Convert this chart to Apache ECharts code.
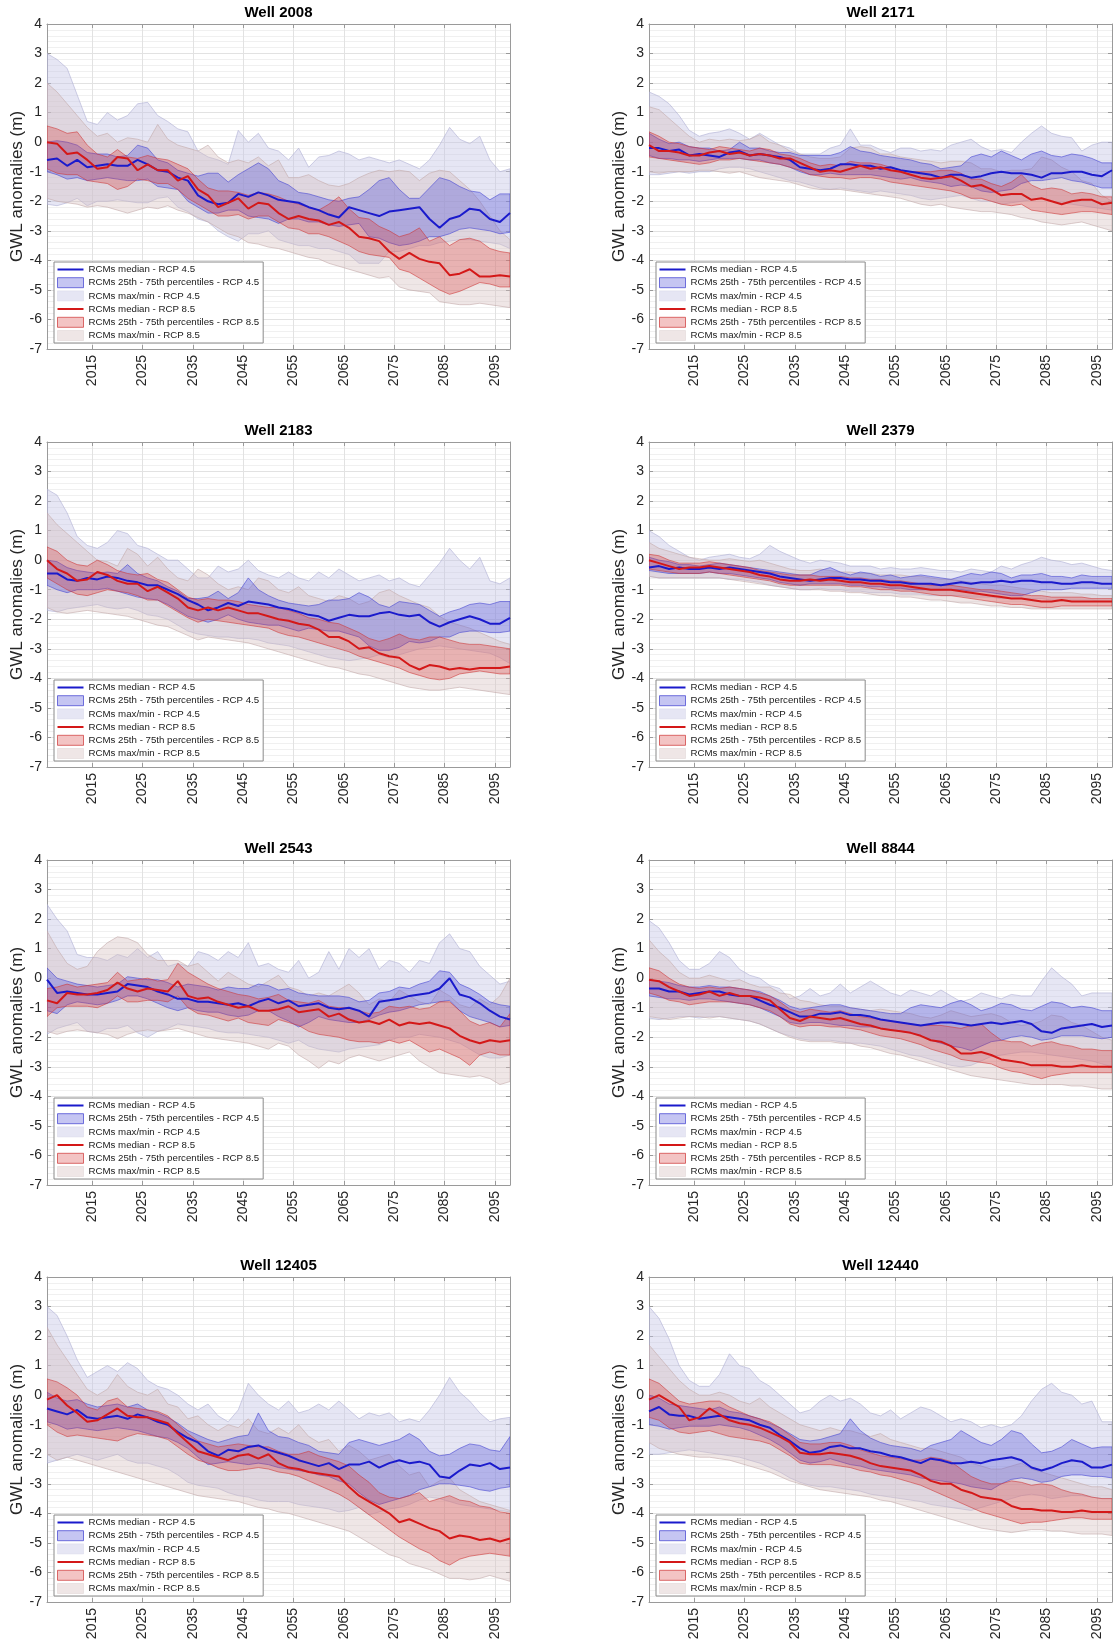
<!DOCTYPE html>
<html><head><meta charset="utf-8">
<script src="https://cdn.jsdelivr.net/npm/echarts@6/dist/echarts.min.js"></script>
<style>html,body{margin:0;padding:0;background:#fff}#c{width:1113px;height:1652px}</style>
</head><body><div id="c"></div>
<script>
const YEARS = [2006,2008,2010,2012,2014,2016,2018,2020,2022,2024,2026,2028,2030,2032,2034,2036,2038,2040,2042,2044,2046,2048,2050,2052,2054,2056,2058,2060,2062,2064,2066,2068,2070,2072,2074,2076,2078,2080,2082,2084,2086,2088,2090,2092,2094,2096,2098];
const X_TICKS = [2015,2025,2035,2045,2055,2065,2075,2085,2095];
const TITLES = ['Well 2008','Well 2171','Well 2183','Well 2379','Well 2543','Well 8844','Well 12405','Well 12440'];
const NAMES = ['RCMs median - RCP 4.5','RCMs 25th - 75th percentiles - RCP 4.5','RCMs max/min - RCP 4.5','RCMs median - RCP 8.5','RCMs 25th - 75th percentiles - RCP 8.5','RCMs max/min - RCP 8.5'];

// ---- Well 2008 ----
const w2008_med45 = [-0.6,-0.55,-0.8,-0.6,-0.85,-0.8,-0.75,-0.8,-0.8,-0.6,-0.75,-0.95,-1.0,-1.2,-1.3,-1.8,-2.0,-2.1,-2.05,-1.75,-1.85,-1.7,-1.8,-1.95,-2.0,-2.05,-2.2,-2.3,-2.45,-2.55,-2.2,-2.3,-2.4,-2.5,-2.35,-2.3,-2.25,-2.2,-2.6,-2.9,-2.6,-2.5,-2.25,-2.3,-2.6,-2.7,-2.4];
const w2008_med85 = [0.0,-0.05,-0.4,-0.35,-0.6,-0.9,-0.85,-0.5,-0.55,-0.95,-0.75,-0.95,-0.95,-1.3,-1.15,-1.6,-1.8,-2.2,-2.05,-1.9,-2.25,-2.05,-2.1,-2.4,-2.6,-2.5,-2.6,-2.65,-2.8,-2.7,-2.9,-3.2,-3.25,-3.35,-3.7,-3.95,-3.75,-3.95,-4.05,-4.1,-4.5,-4.45,-4.3,-4.55,-4.55,-4.5,-4.55];
const w2008_q75_45 = [0.0,0.05,0.0,-0.1,-0.35,-0.4,-0.4,-0.5,-0.45,-0.1,-0.2,-0.6,-0.7,-0.95,-1.05,-1.15,-1.05,-1.05,-1.35,-1.1,-0.9,-0.7,-0.9,-1.3,-1.45,-1.7,-1.75,-1.85,-1.95,-2.0,-1.9,-1.85,-1.6,-1.3,-1.2,-1.6,-1.9,-1.9,-1.55,-1.2,-1.3,-1.5,-1.65,-1.7,-1.95,-1.75,-1.75];
const w2008_q25_45 = [-1.0,-1.1,-1.25,-1.2,-1.3,-1.25,-1.2,-1.25,-1.3,-1.3,-1.25,-1.5,-1.55,-1.6,-2.0,-2.2,-2.4,-2.4,-2.3,-2.3,-2.5,-2.55,-2.6,-2.75,-2.6,-2.6,-2.7,-2.7,-2.8,-2.85,-2.8,-2.75,-3.2,-3.25,-3.4,-3.5,-3.45,-3.35,-3.2,-3.2,-3.1,-2.95,-2.9,-2.95,-3.0,-3.1,-3.05];
const w2008_q75_85 = [0.55,0.45,0.3,0.35,-0.1,-0.4,-0.5,-0.25,-0.5,-0.55,-0.45,-0.55,-0.6,-0.75,-0.9,-1.25,-1.55,-1.65,-1.65,-1.7,-1.8,-1.7,-1.75,-1.85,-2.0,-2.1,-2.2,-2.3,-2.1,-1.85,-2.25,-2.55,-2.6,-2.85,-3.0,-3.2,-3.1,-2.9,-3.35,-3.2,-3.5,-3.3,-3.25,-3.35,-3.6,-3.7,-3.75];
const w2008_q25_85 = [-0.9,-1.05,-1.1,-1.1,-1.3,-1.35,-1.4,-1.6,-1.5,-1.25,-1.3,-1.4,-1.4,-1.6,-1.9,-2.1,-2.3,-2.5,-2.5,-2.45,-2.6,-2.5,-2.5,-2.7,-2.9,-2.95,-3.1,-3.1,-3.2,-3.35,-3.5,-3.7,-3.8,-3.85,-3.9,-4.3,-4.4,-4.6,-4.8,-5.0,-5.15,-5.05,-4.9,-4.75,-4.8,-4.9,-4.9];
const w2008_max45 = [3.0,2.8,2.5,1.6,0.7,0.6,1.0,0.75,0.9,1.3,1.35,0.9,0.7,0.45,0.35,-0.3,-0.5,-0.6,-0.75,0.4,0.0,0.3,-0.2,-0.3,-0.6,-0.2,-0.85,-0.5,-0.45,-0.3,-0.4,-0.6,-0.5,-0.6,-0.7,-0.6,-0.75,-0.9,-0.6,-0.1,0.5,0.1,-0.05,0.2,-0.6,-1.0,-0.9];
const w2008_min45 = [-2.1,-2.15,-2.05,-1.9,-2.15,-2.0,-2.0,-1.95,-2.0,-2.05,-2.05,-1.9,-1.85,-2.2,-2.35,-2.6,-2.7,-3.0,-3.2,-3.35,-3.1,-3.1,-3.0,-3.3,-3.4,-3.5,-3.5,-3.6,-3.6,-3.7,-3.8,-4.1,-4.1,-4.1,-3.7,-3.7,-3.6,-3.5,-3.5,-3.4,-3.35,-3.3,-3.3,-3.35,-3.4,-3.45,-3.6];
const w2008_max85 = [2.0,1.7,1.3,0.9,0.5,0.2,0.3,0.0,0.15,0.1,0.0,0.6,0.1,-0.1,-0.2,-0.3,-0.1,-0.5,-0.7,-0.6,-0.7,-0.5,-0.8,-0.6,-1.2,-1.2,-1.1,-1.3,-1.45,-1.5,-1.4,-1.2,-1.05,-0.95,-1.0,-0.95,-1.0,-1.3,-1.05,-0.95,-1.0,-1.3,-1.6,-2.0,-2.5,-3.0,-3.3];
const w2008_min85 = [-1.9,-2.0,-2.05,-2.1,-2.2,-2.15,-2.2,-2.3,-2.4,-2.3,-2.2,-2.25,-2.15,-2.3,-2.4,-2.55,-2.7,-2.9,-3.1,-3.2,-3.4,-3.45,-3.55,-3.6,-3.7,-3.8,-3.9,-3.95,-4.1,-4.2,-4.3,-4.4,-4.5,-4.6,-4.55,-4.9,-5.0,-5.05,-5.1,-5.4,-5.45,-5.5,-5.5,-5.45,-5.5,-5.55,-5.6];

// ---- Well 2171 ----
const w2171_med45 = [-0.2,-0.2,-0.3,-0.25,-0.45,-0.4,-0.45,-0.5,-0.35,-0.3,-0.45,-0.4,-0.45,-0.5,-0.6,-0.85,-0.9,-0.95,-0.9,-0.75,-0.75,-0.8,-0.8,-0.9,-0.85,-0.95,-1.0,-1.05,-1.1,-1.2,-1.1,-1.1,-1.2,-1.15,-1.05,-1.0,-1.05,-1.05,-1.1,-1.2,-1.05,-1.05,-1.0,-1.0,-1.1,-1.15,-0.95];
const w2171_med85 = [-0.1,-0.3,-0.3,-0.35,-0.45,-0.45,-0.35,-0.3,-0.4,-0.35,-0.45,-0.4,-0.45,-0.55,-0.55,-0.7,-0.85,-1.0,-0.95,-1.0,-0.9,-0.8,-0.9,-0.85,-0.95,-1.0,-1.1,-1.2,-1.25,-1.2,-1.15,-1.3,-1.5,-1.45,-1.6,-1.8,-1.75,-1.75,-1.95,-1.9,-2.0,-2.1,-2.0,-1.95,-1.95,-2.1,-2.05];
const w2171_q75_45 = [0.3,0.1,-0.05,0.0,-0.15,-0.2,-0.2,-0.3,-0.25,0.0,-0.2,-0.2,-0.3,-0.35,-0.35,-0.45,-0.45,-0.45,-0.45,-0.35,-0.15,-0.3,-0.35,-0.45,-0.5,-0.55,-0.6,-0.7,-0.75,-0.9,-0.85,-0.8,-0.5,-0.4,-0.5,-0.3,-0.45,-0.6,-0.4,-0.3,-0.45,-0.5,-0.4,-0.45,-0.55,-0.7,-0.7];
const w2171_q25_45 = [-0.45,-0.55,-0.55,-0.6,-0.6,-0.65,-0.6,-0.55,-0.55,-0.55,-0.6,-0.6,-0.7,-0.75,-0.85,-1.0,-1.1,-1.1,-1.05,-1.1,-1.1,-1.1,-1.1,-1.15,-1.2,-1.25,-1.2,-1.3,-1.35,-1.4,-1.5,-1.45,-1.5,-1.65,-1.7,-1.65,-1.6,-1.4,-1.3,-1.3,-1.25,-1.2,-1.3,-1.35,-1.45,-1.55,-1.55];
const w2171_q75_85 = [0.35,0.2,0.0,-0.05,-0.15,-0.2,-0.25,-0.15,-0.2,-0.25,-0.3,-0.2,-0.25,-0.4,-0.45,-0.55,-0.7,-0.8,-0.75,-0.8,-0.65,-0.7,-0.7,-0.75,-0.85,-0.95,-1.0,-1.0,-1.0,-0.95,-0.95,-1.05,-1.25,-1.25,-1.4,-1.5,-1.35,-1.1,-1.45,-1.6,-1.55,-1.6,-1.75,-1.7,-1.75,-1.85,-1.85];
const w2171_q25_85 = [-0.5,-0.55,-0.6,-0.65,-0.7,-0.75,-0.7,-0.6,-0.6,-0.55,-0.6,-0.65,-0.7,-0.75,-0.85,-0.95,-1.1,-1.15,-1.2,-1.2,-1.25,-1.2,-1.2,-1.25,-1.35,-1.4,-1.45,-1.5,-1.55,-1.6,-1.65,-1.75,-1.9,-1.9,-2.0,-2.1,-2.15,-2.1,-2.3,-2.35,-2.4,-2.45,-2.4,-2.35,-2.35,-2.4,-2.45];
const w2171_max45 = [1.7,1.55,1.3,0.9,0.4,0.2,0.3,0.35,0.45,0.3,0.1,0.3,0.1,-0.1,-0.2,-0.4,-0.4,-0.4,-0.2,-0.1,0.45,-0.1,-0.1,-0.25,-0.35,-0.2,-0.2,-0.3,-0.25,-0.3,-0.1,0.0,0.1,-0.15,-0.3,-0.25,-0.35,0.0,0.3,0.55,0.3,0.2,0.15,-0.3,-0.1,0.0,0.0];
const w2171_min45 = [-1.1,-1.1,-1.05,-1.0,-1.05,-1.0,-1.0,-0.9,-0.85,-0.85,-0.9,-1.0,-1.1,-1.2,-1.3,-1.35,-1.45,-1.55,-1.6,-1.55,-1.6,-1.65,-1.7,-1.65,-1.7,-1.75,-1.8,-1.9,-1.95,-1.9,-1.85,-1.8,-1.9,-2.0,-2.0,-2.1,-2.05,-2.0,-1.95,-1.9,-2.0,-2.05,-2.1,-2.15,-2.2,-2.25,-2.3];
const w2171_max85 = [1.2,1.1,0.8,0.5,0.2,0.0,0.1,0.05,0.1,0.05,0.1,0.25,0.0,-0.1,-0.3,-0.4,-0.5,-0.55,-0.55,-0.5,-0.2,-0.15,-0.2,-0.4,-0.4,-0.5,-0.55,-0.6,-0.65,-0.7,-0.65,-0.65,-0.7,-0.9,-0.9,-1.0,-0.95,-0.95,-0.9,-0.5,-0.6,-0.85,-1.0,-1.3,-1.4,-1.8,-2.0];
const w2171_min85 = [-1.0,-1.05,-1.0,-1.0,-1.0,-0.95,-0.95,-1.0,-1.05,-1.0,-1.1,-1.2,-1.25,-1.3,-1.35,-1.45,-1.55,-1.6,-1.6,-1.6,-1.65,-1.7,-1.75,-1.8,-1.85,-1.9,-2.0,-2.1,-2.15,-2.1,-2.2,-2.25,-2.3,-2.35,-2.35,-2.4,-2.45,-2.55,-2.6,-2.7,-2.75,-2.8,-2.75,-2.7,-2.8,-2.9,-3.0];

// ---- Well 2183 ----
const w2183_med45 = [-0.45,-0.45,-0.65,-0.7,-0.6,-0.65,-0.55,-0.6,-0.7,-0.75,-0.85,-0.85,-1.0,-1.15,-1.35,-1.5,-1.7,-1.6,-1.45,-1.55,-1.4,-1.45,-1.5,-1.6,-1.65,-1.75,-1.85,-1.9,-2.05,-1.95,-1.85,-1.9,-1.9,-1.8,-1.75,-1.85,-1.9,-1.85,-2.1,-2.25,-2.1,-2.0,-1.9,-2.0,-2.15,-2.15,-1.95];
const w2183_med85 = [0.0,-0.3,-0.45,-0.7,-0.65,-0.4,-0.5,-0.7,-0.8,-0.8,-1.05,-0.9,-1.1,-1.3,-1.6,-1.7,-1.6,-1.7,-1.6,-1.7,-1.8,-1.8,-1.9,-2.0,-2.05,-2.15,-2.2,-2.35,-2.6,-2.6,-2.75,-3.0,-2.95,-3.15,-3.25,-3.3,-3.55,-3.7,-3.55,-3.6,-3.7,-3.65,-3.7,-3.65,-3.65,-3.65,-3.6];
const w2183_q75_45 = [0.0,-0.05,-0.25,-0.35,-0.4,-0.45,-0.4,-0.45,-0.15,-0.45,-0.6,-0.7,-0.9,-1.05,-1.3,-1.3,-1.25,-1.05,-1.3,-1.1,-0.6,-1.0,-1.2,-1.35,-1.45,-1.5,-1.55,-1.5,-1.35,-1.35,-1.3,-1.1,-1.25,-1.5,-1.6,-1.4,-1.45,-1.5,-1.7,-1.9,-1.75,-1.65,-1.5,-1.45,-1.5,-1.4,-1.4];
const w2183_q25_45 = [-0.85,-1.0,-1.1,-1.0,-1.0,-1.0,-0.95,-1.05,-1.15,-1.25,-1.3,-1.35,-1.5,-1.7,-1.9,-2.0,-2.1,-2.0,-1.85,-2.0,-2.1,-2.15,-2.2,-2.2,-2.3,-2.4,-2.3,-2.35,-2.4,-2.4,-2.5,-2.6,-2.9,-3.05,-3.05,-2.95,-2.75,-2.8,-2.75,-2.6,-2.6,-2.45,-2.4,-2.4,-2.45,-2.45,-2.4];
const w2183_q75_85 = [0.45,0.3,0.0,-0.15,-0.2,0.0,-0.15,-0.35,-0.45,-0.5,-0.45,-0.65,-0.75,-1.0,-1.25,-1.35,-1.3,-1.35,-1.35,-1.4,-1.5,-1.55,-1.6,-1.6,-1.7,-1.8,-1.95,-2.0,-2.1,-2.15,-2.3,-2.45,-2.65,-2.75,-2.65,-2.5,-2.65,-2.7,-2.6,-2.6,-2.7,-2.8,-2.85,-2.85,-2.9,-2.95,-3.0];
const w2183_q25_85 = [-0.6,-0.8,-1.0,-1.15,-1.2,-1.1,-1.0,-1.05,-1.1,-1.2,-1.35,-1.35,-1.55,-1.75,-1.95,-2.1,-2.0,-2.05,-2.1,-2.15,-2.2,-2.25,-2.3,-2.45,-2.55,-2.6,-2.7,-2.8,-2.9,-3.0,-3.1,-3.25,-3.35,-3.45,-3.55,-3.65,-3.8,-3.9,-4.0,-4.05,-4.0,-3.85,-3.8,-3.75,-3.8,-3.85,-3.85];
const w2183_max45 = [2.4,2.2,1.6,0.8,0.5,0.4,0.6,1.0,0.9,0.5,0.4,0.2,0.0,0.0,-0.3,-0.6,-0.6,-0.2,-0.4,-0.3,0.0,-0.35,-0.5,-0.6,-0.4,-0.6,-0.7,-0.4,-0.6,-0.3,-0.5,-0.7,-0.6,-0.5,-0.7,-0.6,-0.8,-0.9,-0.5,-0.1,0.4,0.0,-0.3,0.1,-0.7,-0.8,-0.6];
const w2183_min45 = [-1.7,-1.75,-1.65,-1.6,-1.55,-1.5,-1.6,-1.65,-1.6,-1.7,-1.85,-1.9,-2.0,-2.2,-2.4,-2.5,-2.55,-2.6,-2.6,-2.65,-2.65,-2.7,-2.8,-2.85,-2.9,-3.0,-3.1,-3.2,-3.3,-3.35,-3.4,-3.35,-3.3,-3.2,-3.3,-3.2,-3.1,-3.0,-2.95,-2.9,-2.95,-3.0,-3.05,-3.1,-3.15,-3.3,-3.5];
const w2183_max85 = [1.6,1.2,0.9,0.6,0.3,0.0,-0.05,-0.2,0.4,0.2,-0.2,0.1,-0.3,-0.6,-0.7,-0.3,-0.5,-0.8,-1.0,-0.9,-1.0,-0.6,-0.7,-1.0,-1.1,-0.9,-1.2,-1.3,-1.4,-1.2,-1.3,-1.5,-1.4,-1.1,-1.0,-1.2,-1.35,-1.5,-1.6,-1.9,-2.1,-2.2,-2.3,-2.45,-2.6,-2.75,-2.85];
const w2183_min85 = [-1.6,-1.75,-1.8,-1.75,-1.7,-1.75,-1.8,-1.85,-1.9,-2.0,-2.1,-2.2,-2.25,-2.4,-2.55,-2.7,-2.6,-2.65,-2.7,-2.75,-2.8,-2.9,-3.0,-3.1,-3.2,-3.3,-3.4,-3.5,-3.6,-3.65,-3.75,-3.85,-3.9,-4.0,-4.1,-4.2,-4.3,-4.35,-4.4,-4.4,-4.35,-4.3,-4.35,-4.4,-4.45,-4.5,-4.55];

// ---- Well 2379 ----
const w2379_med45 = [-0.25,-0.2,-0.3,-0.25,-0.3,-0.3,-0.25,-0.3,-0.25,-0.3,-0.35,-0.4,-0.45,-0.55,-0.6,-0.65,-0.7,-0.65,-0.6,-0.6,-0.65,-0.65,-0.7,-0.7,-0.75,-0.75,-0.8,-0.8,-0.8,-0.85,-0.8,-0.75,-0.8,-0.75,-0.75,-0.7,-0.75,-0.7,-0.7,-0.75,-0.75,-0.8,-0.8,-0.75,-0.75,-0.8,-0.8];
const w2379_med85 = [0.0,-0.1,-0.2,-0.3,-0.25,-0.25,-0.2,-0.25,-0.3,-0.35,-0.4,-0.5,-0.55,-0.65,-0.7,-0.7,-0.65,-0.7,-0.65,-0.7,-0.75,-0.75,-0.8,-0.8,-0.85,-0.85,-0.9,-0.95,-1.0,-1.0,-1.0,-1.05,-1.1,-1.15,-1.2,-1.25,-1.3,-1.3,-1.35,-1.4,-1.4,-1.35,-1.4,-1.4,-1.4,-1.4,-1.4];
const w2379_q75_45 = [0.1,0.0,-0.05,-0.15,-0.15,-0.2,-0.15,-0.1,-0.15,-0.2,-0.25,-0.3,-0.35,-0.4,-0.45,-0.5,-0.5,-0.35,-0.25,-0.4,-0.5,-0.4,-0.45,-0.55,-0.5,-0.6,-0.55,-0.5,-0.55,-0.6,-0.65,-0.55,-0.45,-0.5,-0.4,-0.45,-0.6,-0.5,-0.5,-0.45,-0.55,-0.55,-0.6,-0.5,-0.55,-0.55,-0.55];
const w2379_q25_45 = [-0.35,-0.4,-0.45,-0.45,-0.45,-0.45,-0.4,-0.45,-0.45,-0.5,-0.55,-0.6,-0.65,-0.75,-0.8,-0.85,-0.8,-0.8,-0.8,-0.8,-0.85,-0.85,-0.9,-0.9,-0.95,-0.95,-1.0,-1.0,-1.0,-1.0,-1.0,-1.0,-1.05,-1.05,-1.1,-1.15,-1.2,-1.2,-1.1,-1.0,-1.0,-1.0,-0.95,-0.95,-0.95,-0.95,-0.95];
const w2379_q75_85 = [0.2,0.15,0.0,-0.1,-0.1,-0.1,-0.05,-0.1,-0.15,-0.2,-0.25,-0.35,-0.4,-0.45,-0.5,-0.5,-0.5,-0.55,-0.55,-0.55,-0.6,-0.6,-0.65,-0.65,-0.7,-0.7,-0.75,-0.8,-0.85,-0.85,-0.85,-0.9,-0.95,-1.0,-1.0,-1.05,-1.1,-1.15,-1.2,-1.2,-1.25,-1.25,-1.25,-1.25,-1.3,-1.3,-1.3];
const w2379_q25_85 = [-0.3,-0.35,-0.4,-0.45,-0.45,-0.45,-0.4,-0.45,-0.5,-0.55,-0.6,-0.65,-0.7,-0.8,-0.85,-0.85,-0.85,-0.85,-0.85,-0.85,-0.9,-0.9,-0.95,-1.0,-1.0,-1.05,-1.05,-1.1,-1.15,-1.2,-1.2,-1.25,-1.3,-1.35,-1.4,-1.45,-1.5,-1.5,-1.55,-1.6,-1.6,-1.55,-1.55,-1.55,-1.55,-1.55,-1.55];
const w2379_max45 = [1.0,0.8,0.5,0.3,0.1,0.0,0.1,0.15,0.2,0.1,0.05,0.2,0.5,0.3,0.15,0.0,-0.1,0.0,-0.05,-0.1,-0.2,-0.2,-0.2,-0.3,-0.25,-0.3,-0.3,-0.25,-0.3,-0.35,-0.35,-0.4,-0.3,-0.35,-0.4,-0.2,-0.3,-0.15,-0.05,0.1,0.0,-0.05,-0.15,-0.1,-0.2,-0.3,-0.35];
const w2379_min45 = [-0.55,-0.6,-0.6,-0.6,-0.6,-0.6,-0.6,-0.6,-0.65,-0.65,-0.7,-0.75,-0.85,-0.9,-0.95,-1.0,-1.0,-0.95,-1.0,-1.0,-1.05,-1.05,-1.1,-1.1,-1.1,-1.15,-1.15,-1.15,-1.2,-1.2,-1.2,-1.2,-1.25,-1.25,-1.25,-1.3,-1.3,-1.3,-1.3,-1.3,-1.35,-1.35,-1.35,-1.35,-1.35,-1.4,-1.4];
const w2379_max85 = [0.6,0.4,0.3,0.2,0.1,0.05,0.0,0.0,0.05,0.0,-0.05,0.0,-0.1,-0.2,-0.3,-0.35,-0.35,-0.3,-0.35,-0.4,-0.4,-0.45,-0.45,-0.5,-0.5,-0.5,-0.55,-0.55,-0.6,-0.65,-0.65,-0.7,-0.75,-0.8,-0.85,-0.85,-0.9,-0.95,-1.0,-1.05,-1.1,-1.1,-1.1,-1.15,-1.15,-1.2,-1.2];
const w2379_min85 = [-0.55,-0.6,-0.6,-0.6,-0.6,-0.6,-0.6,-0.6,-0.65,-0.7,-0.75,-0.8,-0.85,-0.9,-0.95,-1.0,-1.0,-1.0,-1.05,-1.05,-1.1,-1.1,-1.15,-1.2,-1.2,-1.25,-1.25,-1.3,-1.35,-1.35,-1.4,-1.45,-1.45,-1.5,-1.55,-1.55,-1.6,-1.6,-1.65,-1.65,-1.65,-1.65,-1.65,-1.65,-1.65,-1.65,-1.65];

// ---- Well 2543 ----
const w2543_med45 = [-0.05,-0.5,-0.45,-0.5,-0.55,-0.55,-0.5,-0.45,-0.2,-0.25,-0.3,-0.45,-0.55,-0.7,-0.7,-0.8,-0.8,-0.85,-0.9,-0.85,-0.95,-0.8,-0.7,-0.85,-0.75,-0.95,-0.9,-0.85,-1.0,-1.05,-1.0,-1.1,-1.3,-0.8,-0.75,-0.7,-0.6,-0.55,-0.5,-0.35,0.0,-0.55,-0.65,-0.85,-1.1,-1.3,-1.4];
const w2543_med85 = [-0.75,-0.85,-0.5,-0.55,-0.55,-0.5,-0.4,-0.15,-0.35,-0.45,-0.35,-0.4,-0.45,-0.1,-0.6,-0.7,-0.65,-0.8,-0.9,-1.0,-0.95,-1.1,-1.1,-1.05,-0.95,-1.15,-1.1,-1.05,-1.3,-1.2,-1.4,-1.5,-1.45,-1.55,-1.4,-1.6,-1.5,-1.55,-1.5,-1.6,-1.7,-1.95,-2.1,-2.2,-2.1,-2.15,-2.1];
const w2543_q75_45 = [0.35,0.0,-0.1,-0.2,-0.25,-0.3,-0.25,-0.2,0.05,0.0,-0.05,-0.05,-0.15,-0.3,-0.2,-0.25,-0.3,-0.4,-0.3,-0.35,-0.35,-0.2,-0.25,-0.4,-0.35,-0.5,-0.55,-0.6,-0.6,-0.6,-0.65,-0.8,-0.75,-0.5,-0.45,-0.3,-0.35,-0.2,-0.1,0.25,0.2,-0.2,-0.35,-0.55,-0.8,-0.9,-0.95];
const w2543_q25_45 = [-1.1,-1.2,-0.9,-0.8,-0.85,-0.9,-0.85,-0.75,-0.6,-0.6,-0.7,-0.85,-1.0,-1.1,-1.0,-1.1,-1.15,-1.15,-1.25,-1.3,-1.25,-1.1,-1.1,-1.3,-1.45,-1.65,-1.5,-1.3,-1.4,-1.45,-1.5,-1.5,-1.4,-1.25,-1.15,-1.1,-1.0,-0.9,-0.85,-0.8,-0.75,-1.1,-1.3,-1.4,-1.5,-1.65,-1.6];
const w2543_q75_85 = [-0.35,-0.3,-0.2,-0.3,-0.25,-0.2,-0.15,0.2,-0.1,-0.05,0.0,-0.1,-0.05,0.5,0.2,0.0,-0.2,-0.35,-0.45,-0.55,-0.6,-0.7,-0.65,-0.55,-0.75,-0.8,-0.85,-0.75,-0.95,-1.0,-1.0,-1.1,-1.2,-1.15,-0.95,-1.0,-0.95,-1.05,-1.0,-0.8,-0.8,-1.1,-1.45,-1.6,-1.5,-1.65,-1.2];
const w2543_q25_85 = [-1.3,-1.0,-0.95,-0.95,-0.95,-1.0,-0.85,-0.6,-0.8,-0.8,-0.75,-0.75,-0.8,-0.6,-1.0,-1.2,-1.25,-1.35,-1.45,-1.35,-1.5,-1.55,-1.6,-1.4,-1.5,-1.6,-1.8,-1.9,-1.95,-2.0,-2.1,-2.15,-2.15,-2.2,-2.1,-2.2,-2.1,-2.3,-2.5,-2.4,-2.55,-2.7,-2.95,-2.6,-2.5,-2.6,-2.6];
const w2543_max45 = [2.5,2.0,1.6,0.8,0.7,0.7,0.6,0.8,0.7,1.0,0.7,0.9,0.4,0.5,0.4,0.9,0.8,0.6,0.9,0.7,1.2,0.4,0.5,0.3,0.2,0.6,0.0,0.2,0.9,0.3,1.0,0.7,1.0,0.3,0.6,0.5,0.2,0.6,0.5,1.2,1.5,1.0,0.9,0.4,0.1,-0.2,-0.1];
const w2543_min45 = [-1.9,-1.7,-1.6,-1.5,-1.8,-1.85,-1.7,-1.7,-1.6,-1.85,-2.0,-1.8,-1.7,-1.55,-1.6,-1.65,-1.7,-1.8,-1.85,-1.85,-1.9,-1.95,-2.0,-2.1,-2.2,-2.1,-2.3,-2.4,-2.45,-2.5,-2.4,-2.35,-2.3,-2.25,-2.1,-2.0,-2.0,-1.9,-1.95,-2.0,-2.1,-2.2,-2.4,-2.6,-2.7,-2.7,-2.6];
const w2543_max85 = [1.6,1.0,0.5,0.3,0.4,0.9,1.2,1.4,1.35,1.2,0.8,0.6,0.6,0.6,0.4,0.5,0.2,-0.1,0.2,0.0,-0.2,-0.3,-0.1,0.1,-0.3,-0.4,-0.6,-0.5,-0.6,-0.4,-0.2,-0.5,-0.9,-0.7,-0.8,-0.4,-0.6,-0.8,-0.9,-0.4,-0.6,-0.9,-1.0,-0.7,-0.9,-0.6,0.0];
const w2543_min85 = [-1.8,-1.9,-1.8,-1.75,-1.8,-1.85,-1.9,-2.05,-1.9,-1.8,-1.75,-1.8,-1.75,-1.7,-1.8,-1.9,-2.0,-2.05,-2.1,-2.15,-2.2,-2.3,-2.4,-2.2,-2.3,-2.6,-2.8,-3.05,-2.8,-2.9,-2.7,-2.6,-2.7,-2.8,-2.7,-2.6,-2.5,-2.8,-3.0,-3.2,-3.25,-3.3,-3.35,-3.3,-3.4,-3.6,-3.5];

// ---- Well 8844 ----
const w8844_med45 = [-0.35,-0.35,-0.45,-0.45,-0.55,-0.5,-0.45,-0.45,-0.55,-0.6,-0.6,-0.75,-0.9,-1.0,-1.15,-1.3,-1.3,-1.2,-1.2,-1.15,-1.25,-1.25,-1.3,-1.4,-1.45,-1.5,-1.55,-1.6,-1.55,-1.5,-1.5,-1.55,-1.6,-1.55,-1.5,-1.55,-1.5,-1.45,-1.55,-1.8,-1.85,-1.7,-1.65,-1.6,-1.55,-1.65,-1.6];
const w8844_med85 = [-0.05,-0.1,-0.3,-0.45,-0.6,-0.55,-0.45,-0.6,-0.5,-0.6,-0.6,-0.65,-0.75,-1.05,-1.35,-1.45,-1.3,-1.35,-1.4,-1.35,-1.45,-1.55,-1.6,-1.7,-1.75,-1.8,-1.85,-1.95,-2.1,-2.15,-2.3,-2.55,-2.55,-2.5,-2.6,-2.75,-2.8,-2.85,-2.95,-2.95,-2.95,-3.0,-3.0,-2.95,-3.0,-3.0,-3.0];
const w8844_q75_45 = [-0.05,-0.1,-0.15,-0.25,-0.3,-0.3,-0.25,-0.3,-0.3,-0.35,-0.4,-0.45,-0.6,-0.75,-0.95,-1.05,-1.0,-0.95,-0.9,-0.9,-1.0,-1.05,-1.1,-1.15,-1.2,-1.2,-1.0,-0.9,-0.95,-1.0,-0.85,-0.75,-0.9,-1.1,-1.0,-0.85,-0.9,-1.05,-1.1,-0.95,-0.8,-0.85,-1.0,-0.95,-1.0,-1.1,-1.1];
const w8844_q25_45 = [-0.6,-0.65,-0.7,-0.7,-0.75,-0.7,-0.7,-0.75,-0.8,-0.85,-0.9,-1.0,-1.15,-1.3,-1.5,-1.55,-1.5,-1.5,-1.55,-1.6,-1.6,-1.65,-1.65,-1.7,-1.75,-1.8,-1.85,-1.95,-2.1,-2.2,-2.3,-2.35,-2.45,-2.3,-2.15,-2.1,-2.0,-1.95,-2.0,-2.1,-2.05,-1.95,-1.95,-1.95,-2.0,-2.05,-2.0];
const w8844_q75_85 = [0.35,0.25,0.0,-0.2,-0.3,-0.35,-0.3,-0.35,-0.3,-0.35,-0.4,-0.5,-0.6,-0.8,-1.05,-1.15,-1.05,-1.1,-1.15,-1.1,-1.2,-1.3,-1.35,-1.4,-1.45,-1.5,-1.55,-1.6,-1.6,-1.6,-1.65,-1.7,-1.6,-1.55,-1.85,-2.1,-2.15,-2.15,-2.3,-2.2,-2.15,-2.25,-2.3,-2.4,-2.4,-2.45,-2.45];
const w8844_q25_85 = [-0.5,-0.6,-0.75,-0.8,-0.9,-0.85,-0.8,-0.8,-0.8,-0.85,-0.9,-1.0,-1.1,-1.3,-1.55,-1.65,-1.6,-1.6,-1.65,-1.65,-1.7,-1.75,-1.85,-1.95,-2.0,-2.05,-2.15,-2.25,-2.4,-2.5,-2.6,-2.75,-2.8,-2.85,-2.9,-3.05,-3.15,-3.2,-3.3,-3.4,-3.3,-3.25,-3.2,-3.2,-3.2,-3.2,-3.2];
const w8844_max45 = [1.95,1.7,1.2,0.6,0.3,0.3,0.5,0.9,0.7,0.3,0.1,0.0,-0.25,-0.35,-0.7,-0.6,-0.35,-0.6,-0.5,-0.2,-0.5,-0.3,-0.1,-0.3,-0.5,-0.6,-0.4,-0.5,-0.6,-0.4,-0.6,-0.8,-0.7,-0.5,-0.6,-0.7,-0.55,-0.6,-0.6,-0.1,0.35,0.05,-0.2,-0.6,-0.5,-0.5,-0.5];
const w8844_min45 = [-1.35,-1.4,-1.35,-1.3,-1.3,-1.35,-1.3,-1.3,-1.35,-1.4,-1.45,-1.55,-1.7,-1.85,-1.95,-2.05,-2.1,-2.1,-2.1,-2.15,-2.2,-2.2,-2.25,-2.3,-2.4,-2.5,-2.6,-2.65,-2.75,-2.85,-2.95,-3.0,-2.95,-2.8,-2.65,-2.6,-2.55,-2.5,-2.5,-2.55,-2.6,-2.65,-2.7,-2.75,-2.8,-2.9,-3.0];
const w8844_max85 = [1.3,0.9,0.6,0.2,0.0,0.0,0.1,0.0,-0.1,-0.05,-0.2,-0.3,-0.3,-0.5,-0.55,-0.75,-0.8,-0.9,-0.95,-0.95,-1.0,-1.05,-1.1,-1.05,-1.1,-1.15,-1.2,-1.3,-1.35,-1.25,-1.1,-1.2,-1.3,-1.25,-1.2,-1.3,-1.5,-1.6,-1.55,-1.45,-1.25,-1.3,-1.5,-1.6,-1.8,-2.0,-2.1];
const w8844_min85 = [-1.3,-1.35,-1.4,-1.35,-1.3,-1.3,-1.35,-1.3,-1.35,-1.4,-1.45,-1.55,-1.7,-1.85,-2.0,-2.1,-2.15,-2.15,-2.15,-2.2,-2.2,-2.3,-2.35,-2.45,-2.55,-2.6,-2.7,-2.8,-2.9,-3.0,-3.1,-3.2,-3.3,-3.35,-3.4,-3.45,-3.5,-3.55,-3.6,-3.6,-3.6,-3.6,-3.65,-3.65,-3.7,-3.75,-3.75];

// ---- Well 12405 ----
const w12405_med45 = [-0.45,-0.55,-0.65,-0.5,-0.75,-0.8,-0.75,-0.7,-0.8,-0.65,-0.75,-0.9,-1.0,-1.25,-1.45,-1.6,-1.9,-2.05,-1.85,-1.9,-1.75,-1.7,-1.85,-1.95,-2.05,-2.2,-2.3,-2.4,-2.3,-2.5,-2.35,-2.35,-2.25,-2.45,-2.3,-2.2,-2.3,-2.25,-2.35,-2.75,-2.8,-2.55,-2.35,-2.4,-2.3,-2.5,-2.45];
const w12405_med85 = [-0.15,0.0,-0.35,-0.6,-0.9,-0.85,-0.65,-0.45,-0.7,-0.75,-0.75,-0.85,-0.95,-1.3,-1.6,-1.9,-2.0,-2.1,-2.2,-2.05,-2.0,-2.15,-2.0,-2.3,-2.45,-2.5,-2.6,-2.65,-2.7,-2.75,-3.1,-3.4,-3.6,-3.8,-4.0,-4.3,-4.2,-4.35,-4.5,-4.6,-4.85,-4.75,-4.8,-4.9,-4.85,-4.95,-4.85];
const w12405_q75_45 = [0.1,-0.1,-0.2,-0.15,-0.3,-0.4,-0.35,-0.3,-0.4,-0.3,-0.5,-0.6,-0.75,-0.95,-1.2,-1.35,-1.5,-1.6,-1.5,-1.4,-1.35,-0.6,-1.2,-1.4,-1.45,-1.6,-1.7,-1.9,-1.95,-2.0,-1.6,-1.5,-1.6,-1.7,-1.6,-1.5,-1.3,-1.5,-1.9,-2.05,-2.0,-1.8,-1.65,-1.7,-1.85,-1.9,-1.4];
const w12405_q25_45 = [-0.9,-1.0,-1.15,-1.1,-1.15,-1.2,-1.15,-1.1,-1.15,-1.2,-1.3,-1.4,-1.45,-1.6,-1.8,-2.1,-2.35,-2.3,-2.25,-2.3,-2.35,-2.3,-2.35,-2.45,-2.5,-2.55,-2.6,-2.7,-2.75,-2.9,-3.0,-3.3,-3.55,-3.7,-3.6,-3.5,-3.4,-3.2,-3.1,-3.0,-3.0,-3.05,-3.1,-3.2,-3.25,-3.15,-3.1];
const w12405_q75_85 = [0.55,0.45,0.25,0.0,-0.4,-0.5,-0.2,-0.1,-0.4,-0.45,-0.5,-0.55,-0.7,-1.0,-1.3,-1.55,-1.65,-1.75,-1.7,-1.65,-1.7,-1.75,-1.75,-1.9,-2.0,-2.0,-1.9,-2.05,-2.15,-2.25,-2.4,-2.7,-2.95,-3.3,-3.45,-3.5,-3.4,-3.3,-3.6,-3.5,-3.4,-3.55,-3.6,-3.75,-3.8,-3.95,-4.0];
const w12405_q25_85 = [-1.0,-1.25,-1.4,-1.35,-1.4,-1.45,-1.5,-1.55,-1.4,-1.3,-1.35,-1.4,-1.5,-1.75,-2.0,-2.2,-2.3,-2.45,-2.55,-2.55,-2.5,-2.45,-2.5,-2.6,-2.65,-2.75,-2.9,-3.05,-3.2,-3.35,-3.55,-3.8,-4.05,-4.3,-4.55,-4.8,-5.0,-5.2,-5.35,-5.6,-5.75,-5.55,-5.45,-5.4,-5.35,-5.4,-5.45];
const w12405_max45 = [3.0,2.7,2.0,1.2,0.6,0.8,1.0,0.8,1.1,0.9,0.5,0.3,0.2,0.0,-0.3,-0.5,-0.3,-0.7,-0.9,-0.5,0.4,0.0,-0.3,-0.5,-0.2,-0.6,-0.5,-0.3,-0.5,-0.2,-0.5,-0.8,-0.6,-0.7,-0.6,-0.9,-0.8,-0.9,-0.5,0.0,0.6,0.1,-0.2,-0.6,-0.9,-0.8,-0.75];
const w12405_min45 = [-2.3,-2.2,-2.1,-2.0,-2.1,-2.2,-2.1,-2.0,-2.2,-2.3,-2.3,-2.4,-2.5,-2.7,-2.95,-3.05,-3.1,-3.15,-3.3,-3.4,-3.45,-3.55,-3.6,-3.6,-3.6,-3.7,-3.75,-3.8,-3.85,-3.95,-3.9,-3.8,-4.05,-3.95,-3.85,-3.8,-3.7,-3.55,-3.45,-3.5,-3.6,-3.7,-3.75,-3.8,-3.85,-3.9,-3.95];
const w12405_max85 = [2.3,1.7,1.2,0.7,0.2,0.0,0.2,0.7,0.3,0.1,0.0,0.2,-0.3,-0.4,-0.8,-0.7,-1.0,-1.2,-1.0,-1.1,-0.8,-1.2,-1.3,-1.1,-1.3,-1.0,-1.4,-1.6,-1.5,-1.9,-1.7,-1.9,-2.2,-2.1,-2.0,-2.4,-2.7,-2.6,-3.1,-2.9,-2.8,-3.2,-3.4,-3.6,-3.7,-3.8,-3.9];
const w12405_min85 = [-2.0,-2.2,-2.1,-2.2,-2.3,-2.4,-2.5,-2.6,-2.7,-2.8,-2.9,-3.0,-3.1,-3.2,-3.3,-3.4,-3.45,-3.5,-3.55,-3.6,-3.7,-3.8,-3.85,-3.95,-4.0,-4.1,-4.2,-4.3,-4.4,-4.5,-4.6,-4.8,-5.0,-5.2,-5.4,-5.5,-5.7,-5.8,-5.9,-6.05,-6.2,-6.2,-6.25,-6.2,-6.1,-6.2,-6.3];

// ---- Well 12440 ----
const w12440_med45 = [-0.55,-0.4,-0.65,-0.7,-0.7,-0.8,-0.75,-0.7,-0.75,-0.8,-0.85,-1.0,-1.1,-1.35,-1.55,-1.8,-1.95,-1.9,-1.75,-1.7,-1.8,-1.8,-1.9,-1.95,-2.05,-2.1,-2.2,-2.3,-2.15,-2.2,-2.3,-2.3,-2.25,-2.3,-2.2,-2.15,-2.1,-2.2,-2.45,-2.55,-2.45,-2.3,-2.2,-2.25,-2.45,-2.45,-2.35];
const w12440_med85 = [-0.15,0.0,-0.2,-0.4,-0.85,-0.75,-0.45,-0.65,-0.85,-0.95,-1.0,-1.1,-1.25,-1.4,-1.6,-1.95,-2.0,-2.0,-1.95,-2.0,-2.05,-2.15,-2.3,-2.4,-2.45,-2.5,-2.55,-2.7,-2.9,-3.0,-3.0,-3.2,-3.3,-3.45,-3.5,-3.55,-3.75,-3.85,-3.85,-3.9,-3.9,-3.95,-3.95,-3.9,-3.95,-3.95,-3.95];
const w12440_q75_45 = [0.0,-0.1,-0.3,-0.35,-0.4,-0.45,-0.5,-0.4,-0.55,-0.6,-0.7,-0.8,-0.95,-1.1,-1.3,-1.5,-1.55,-1.5,-1.4,-1.3,-0.8,-1.2,-1.45,-1.6,-1.7,-1.75,-1.8,-1.9,-1.7,-1.6,-1.5,-1.2,-1.4,-1.6,-1.7,-1.5,-1.2,-1.3,-1.65,-1.95,-1.9,-1.75,-1.5,-1.65,-1.8,-1.75,-1.75];
const w12440_q25_45 = [-1.0,-1.05,-1.15,-1.1,-1.05,-1.05,-1.05,-1.0,-1.05,-1.1,-1.2,-1.35,-1.5,-1.7,-1.95,-2.2,-2.3,-2.25,-2.15,-2.25,-2.35,-2.4,-2.5,-2.55,-2.6,-2.65,-2.7,-2.8,-2.85,-2.9,-2.95,-3.0,-3.1,-3.15,-3.2,-3.0,-2.85,-2.8,-2.85,-2.95,-2.9,-2.75,-2.7,-2.7,-2.75,-2.75,-2.8];
const w12440_q75_85 = [0.55,0.4,0.1,-0.2,-0.3,-0.25,-0.2,-0.2,-0.4,-0.55,-0.7,-0.8,-0.9,-1.1,-1.35,-1.6,-1.65,-1.65,-1.6,-1.6,-1.7,-1.85,-1.95,-2.05,-2.1,-2.15,-2.2,-2.2,-2.1,-2.15,-2.25,-2.5,-2.75,-2.9,-3.0,-3.0,-2.9,-2.95,-3.05,-3.0,-3.05,-3.2,-3.3,-3.35,-3.45,-3.5,-3.5];
const w12440_q25_85 = [-0.75,-0.85,-1.1,-1.25,-1.3,-1.25,-1.2,-1.3,-1.4,-1.45,-1.5,-1.55,-1.65,-1.85,-2.05,-2.3,-2.35,-2.35,-2.35,-2.4,-2.45,-2.55,-2.6,-2.7,-2.75,-2.85,-2.95,-3.05,-3.2,-3.35,-3.5,-3.65,-3.8,-3.95,-4.05,-4.15,-4.25,-4.35,-4.3,-4.3,-4.25,-4.2,-4.15,-4.15,-4.2,-4.2,-4.2];
const w12440_max45 = [3.0,2.6,1.9,1.0,0.5,0.3,0.3,0.7,1.4,1.0,0.9,0.5,0.3,0.0,-0.3,-0.6,-0.5,-0.2,0.0,-0.2,-0.1,-0.3,-0.6,-0.7,-0.5,-0.8,-0.6,-0.4,-0.5,-0.7,-0.9,-0.8,-0.9,-1.1,-1.0,-1.1,-1.0,-0.7,-0.2,0.2,0.4,0.1,0.0,-0.3,-0.2,-0.9,-0.9];
const w12440_min45 = [-2.0,-2.0,-1.95,-1.9,-1.85,-1.9,-1.95,-2.0,-2.05,-2.1,-2.2,-2.3,-2.45,-2.6,-2.8,-2.95,-3.05,-3.1,-3.1,-3.15,-3.2,-3.25,-3.35,-3.4,-3.45,-3.5,-3.55,-3.6,-3.7,-3.75,-3.8,-3.85,-3.9,-3.8,-3.7,-3.6,-3.5,-3.4,-3.35,-3.4,-3.5,-3.45,-3.4,-3.4,-3.45,-3.5,-3.5];
const w12440_max85 = [1.7,1.3,0.9,0.5,0.2,0.0,0.0,0.1,0.0,-0.2,-0.3,-0.1,-0.4,-0.6,-0.8,-1.0,-1.1,-1.2,-1.1,-1.2,-1.2,-1.3,-1.4,-1.3,-1.5,-1.6,-1.7,-1.8,-1.8,-1.9,-2.0,-2.1,-2.3,-2.4,-2.5,-2.5,-2.4,-2.3,-2.5,-2.6,-2.7,-2.8,-2.9,-3.0,-3.1,-3.1,-3.2];
const w12440_min85 = [-1.6,-1.8,-1.9,-2.0,-2.05,-2.1,-2.1,-2.15,-2.2,-2.3,-2.4,-2.5,-2.6,-2.75,-2.9,-3.0,-3.1,-3.2,-3.25,-3.3,-3.35,-3.4,-3.45,-3.55,-3.6,-3.7,-3.8,-3.9,-4.0,-4.1,-4.2,-4.3,-4.4,-4.5,-4.55,-4.6,-4.65,-4.6,-4.55,-4.55,-4.6,-4.6,-4.65,-4.7,-4.7,-4.7,-4.75];

const WELLS = [
  {title:TITLES[0], med45:w2008_med45, q25_45:w2008_q25_45, q75_45:w2008_q75_45, min45:w2008_min45, max45:w2008_max45, med85:w2008_med85, q25_85:w2008_q25_85, q75_85:w2008_q75_85, min85:w2008_min85, max85:w2008_max85},
  {title:TITLES[1], med45:w2171_med45, q25_45:w2171_q25_45, q75_45:w2171_q75_45, min45:w2171_min45, max45:w2171_max45, med85:w2171_med85, q25_85:w2171_q25_85, q75_85:w2171_q75_85, min85:w2171_min85, max85:w2171_max85},
  {title:TITLES[2], med45:w2183_med45, q25_45:w2183_q25_45, q75_45:w2183_q75_45, min45:w2183_min45, max45:w2183_max45, med85:w2183_med85, q25_85:w2183_q25_85, q75_85:w2183_q75_85, min85:w2183_min85, max85:w2183_max85},
  {title:TITLES[3], med45:w2379_med45, q25_45:w2379_q25_45, q75_45:w2379_q75_45, min45:w2379_min45, max45:w2379_max45, med85:w2379_med85, q25_85:w2379_q25_85, q75_85:w2379_q75_85, min85:w2379_min85, max85:w2379_max85},
  {title:TITLES[4], med45:w2543_med45, q25_45:w2543_q25_45, q75_45:w2543_q75_45, min45:w2543_min45, max45:w2543_max45, med85:w2543_med85, q25_85:w2543_q25_85, q75_85:w2543_q75_85, min85:w2543_min85, max85:w2543_max85},
  {title:TITLES[5], med45:w8844_med45, q25_45:w8844_q25_45, q75_45:w8844_q75_45, min45:w8844_min45, max45:w8844_max45, med85:w8844_med85, q25_85:w8844_q25_85, q75_85:w8844_q75_85, min85:w8844_min85, max85:w8844_max85},
  {title:TITLES[6], med45:w12405_med45, q25_45:w12405_q25_45, q75_45:w12405_q75_45, min45:w12405_min45, max45:w12405_max45, med85:w12405_med85, q25_85:w12405_q25_85, q75_85:w12405_q75_85, min85:w12405_min85, max85:w12405_max85},
  {title:TITLES[7], med45:w12440_med45, q25_45:w12440_q25_45, q75_45:w12440_q75_45, min45:w12440_min45, max45:w12440_max45, med85:w12440_med85, q25_85:w12440_q25_85, q75_85:w12440_q75_85, min85:w12440_min85, max85:w12440_max85}
];

// ---- styling ----
const FONT = '"Liberation Sans", Arial, Helvetica, sans-serif';
const AX = '#9a9a9a';
const TXT = '#262626';
const C = {
  med45: '#1a1acc', med85: '#d41818',
  iqr45Fill: 'rgba(80,80,215,0.33)', iqr45Edge: 'rgba(70,70,210,0.75)',
  iqr85Fill: 'rgba(215,60,60,0.30)', iqr85Edge: 'rgba(205,50,50,0.7)',
  env45Fill: 'rgba(195,195,228,0.42)', env45Edge: 'rgba(175,175,212,0.75)',
  env85Fill: 'rgba(212,190,190,0.38)', env85Edge: 'rgba(195,170,170,0.75)'
};
// legend line icon: a 2px bar centred in a 26x10 box (tiny corner marks fix the box extent)
const LINE_ICON = 'path://M0,0L0.01,0L0,0.01Z M0,4L26,4L26,6L0,6Z M26,10L25.99,10L26,9.99Z';
const COL_LEFT = [47, 649], ROW_TOP = [24, 442, 860, 1277], PW = 463, PH = 325;

function band(name, k, lo, hi, fill, edge, z) {
  return {
    type: 'custom', name: name, xAxisIndex: 2 * k, yAxisIndex: 2 * k, z: z, clip: true, silent: true,
    itemStyle: { color: fill, borderColor: edge },
    encode: { x: 0, y: [1, 2] },
    data: YEARS.map((x, i) => [x, lo[i], hi[i]]),
    renderItem: function (params, api) {
      if (params.dataIndex !== 0) return null;
      const up = YEARS.map((x, i) => api.coord([x, hi[i]]));
      const dn = YEARS.map((x, i) => api.coord([x, lo[i]])).reverse();
      return { type: 'polygon', shape: { points: up.concat(dn) }, style: { fill: fill, stroke: edge, lineWidth: 0.8 } };
    }
  };
}
function medLine(name, k, vals, color) {
  return {
    type: 'line', name: name, xAxisIndex: 2 * k, yAxisIndex: 2 * k, z: 6, silent: true,
    symbol: 'none', data: YEARS.map((x, i) => [x, vals[i]]),
    lineStyle: { color: color, width: 2 }, itemStyle: { color: color }
  };
}

const grids = [], xAxes = [], yAxes = [], series = [], legends = [], graphics = [];
WELLS.forEach((w, k) => {
  const left = COL_LEFT[k % 2], top = ROW_TOP[Math.floor(k / 2)];
  grids.push({ left: left, top: top, width: PW, height: PH, show: true, backgroundColor: '#fff', borderWidth: 0 });
  xAxes.push({
    type: 'value', gridIndex: k, min: 2006, max: 2098, position: 'bottom',
    axisLine: { show: true, onZero: false, lineStyle: { color: AX, width: 1 } },
    axisTick: { show: true, inside: true, length: 4, customValues: X_TICKS, lineStyle: { color: AX } },
    axisLabel: { show: true, customValues: X_TICKS, rotate: 90, margin: 6, fontSize: 14, color: TXT, fontFamily: FONT, formatter: v => String(v) },
    splitLine: { show: true, lineStyle: { color: '#e2e2e2', width: 1 } }
  });
  xAxes.push({
    type: 'value', gridIndex: k, min: 2006, max: 2098, position: 'top',
    axisLine: { show: true, onZero: false, lineStyle: { color: AX, width: 1 } },
    axisTick: { show: true, inside: true, length: 4, customValues: X_TICKS, lineStyle: { color: AX } },
    axisLabel: { show: false }, splitLine: { show: false }
  });
  yAxes.push({
    type: 'value', gridIndex: k, min: -7, max: 4, interval: 1, position: 'left',
    name: 'GWL anomalies (m)', nameLocation: 'middle', nameGap: 21,
    nameTextStyle: { fontSize: 17, color: TXT, fontFamily: FONT },
    axisLine: { show: true, onZero: false, lineStyle: { color: AX, width: 1 } },
    axisTick: { show: true, inside: true, length: 4, lineStyle: { color: AX } },
    axisLabel: { show: true, margin: 5, fontSize: 14, color: TXT, fontFamily: FONT },
    splitLine: { show: true, lineStyle: { color: '#e2e2e2', width: 1 } },
    minorTick: { show: false, splitNumber: 5 },
    minorSplitLine: { show: true, lineStyle: { color: '#f0f0f0', width: 1 } }
  });
  yAxes.push({
    type: 'value', gridIndex: k, min: -7, max: 4, interval: 1, position: 'right',
    axisLine: { show: true, onZero: false, lineStyle: { color: AX, width: 1 } },
    axisTick: { show: true, inside: true, length: 4, lineStyle: { color: AX } },
    axisLabel: { show: false }, splitLine: { show: false }
  });

  series.push(band(NAMES[2], k, w.min45, w.max45, C.env45Fill, C.env45Edge, 2));
  series.push(band(NAMES[5], k, w.min85, w.max85, C.env85Fill, C.env85Edge, 3));
  series.push(band(NAMES[1], k, w.q25_45, w.q75_45, C.iqr45Fill, C.iqr45Edge, 4));
  series.push(band(NAMES[4], k, w.q25_85, w.q75_85, C.iqr85Fill, C.iqr85Edge, 5));
  series.push(medLine(NAMES[0], k, w.med45, C.med45));
  series.push(medLine(NAMES[3], k, w.med85, C.med85));

  legends.push({
    show: true, orient: 'vertical', left: left + 7, top: top + 238,
    backgroundColor: '#fff', borderColor: '#8a8a8a', borderWidth: 1, borderRadius: 0,
    padding: [2, 4, 2, 3], itemGap: 2.2, itemWidth: 26, itemHeight: 10,
    selectedMode: false,
    textStyle: { fontSize: 9.7, color: '#1a1a1a', fontFamily: FONT, lineHeight: 11 },
    data: [
      { name: NAMES[0], icon: LINE_ICON, itemStyle: { color: C.med45, borderWidth: 0 } },
      { name: NAMES[1], icon: 'rect', itemStyle: { color: 'rgba(80,80,215,0.33)', borderColor: 'rgba(70,70,210,0.75)', borderWidth: 1 } },
      { name: NAMES[2], icon: 'rect', itemStyle: { color: 'rgba(195,195,228,0.42)', borderColor: 'rgba(220,220,235,1)', borderWidth: 0.6 } },
      { name: NAMES[3], icon: LINE_ICON, itemStyle: { color: C.med85, borderWidth: 0 } },
      { name: NAMES[4], icon: 'rect', itemStyle: { color: 'rgba(215,60,60,0.30)', borderColor: 'rgba(205,50,50,0.7)', borderWidth: 1 } },
      { name: NAMES[5], icon: 'rect', itemStyle: { color: 'rgba(212,190,190,0.38)', borderColor: 'rgba(225,215,215,1)', borderWidth: 0.6 } }
    ]
  });

  graphics.push({
    type: 'text', x: left + PW / 2, y: top - 4, z: 10,
    style: { text: w.title, font: 'bold 15px ' + FONT, fill: '#000', align: 'center', verticalAlign: 'bottom', textAlign: 'center', textVerticalAlign: 'bottom' }
  });
});

const chart = echarts.init(document.getElementById('c'), null, { renderer: 'canvas', width: 1113, height: 1652 });
chart.setOption({
  animation: false,
  backgroundColor: '#fff',
  grid: grids, xAxis: xAxes, yAxis: yAxes,
  legend: legends, series: series, graphic: graphics
});
</script></body></html>
